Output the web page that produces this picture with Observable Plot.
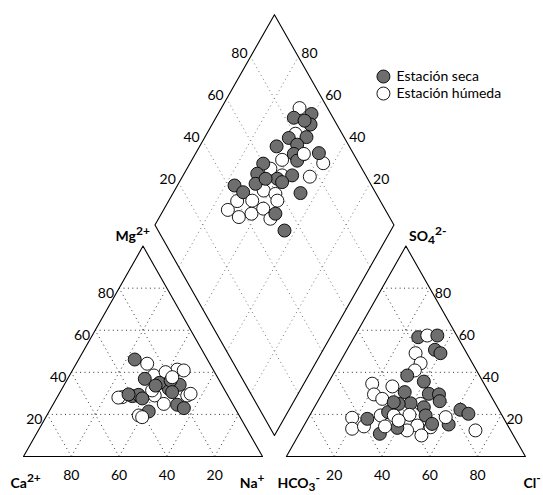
<!DOCTYPE html>
<html>
<head>
<meta charset="utf-8">
<script src="https://cdn.jsdelivr.net/npm/d3@7"></script>
<script src="https://cdn.jsdelivr.net/npm/@observablehq/plot@0.6"></script>
<style>
  html, body { margin: 0; padding: 0; background: white; }
  #chart svg { display: block; }
</style>
</head>
<body>
<div id="chart"></div>
<script>
// ---- Data (percent of meq) ----
const ticks = [20, 40, 60, 80];
const seasons = ["Estación seca", "Estación húmeda"];
const ionLabels = ["Mg^2+", "SO_4^2-", "Ca^2+", "Na^+", "HCO_3^-", "Cl^-"];

// cation triangle: [Na+ %, Mg2+ %]
const cationDry = [[23.5,46.1],[39.9,37.7],[32.3,36.9],[31.2,28.7],[33.5,29.3],[48.3,34.1],[52,24.6],[55.6,23],[41.7,21.4],[44.7,32.2],[39.4,35],[43.5,36.1],[46.9,30.6],[35.9,27.6],[38.4,33.7],[29.2,29.5]];
const cationWet = [[29.7,44.1],[35.3,38.5],[43.7,41.3],[46.6,40.9],[39.4,40.1],[40.4,29],[46.2,25],[27.2,28.2],[38.5,19.5],[40.3,18.7],[54,29],[55,29.8],[38.1,31.4],[43.4,37.7],[25.7,28]];

// anion triangle: [Cl- %, SO4 2- %]
const anionDry = [[26.8,56.7],[34.4,57.5],[36.8,50.7],[39.9,49.1],[31.3,38.5],[39.7,35.6],[34.2,30.6],[44.7,29.8],[49.1,29.5],[51,26.3],[39.3,25.3],[45.8,23.4],[34.5,25],[32,21.1],[48.5,19.5],[61.7,22.2],[66,20.3],[60.3,15.2],[33.7,10.8],[39.6,13.6],[24.9,17.9],[53.2,15.5],[32,25.8]];
const anionWet = [[30.2,57.5],[29.5,49.1],[34,44.3],[33.3,40.9],[18.6,34.6],[27.7,33.3],[21.9,29.5],[26.4,27.4],[43.6,25],[18.3,18.4],[20.9,13.2],[25.3,14.3],[29.7,19.5],[35.2,19.5],[41.6,19.8],[47.4,14.7],[44.3,12.4],[53.4,13.9],[57.3,18.7],[51.5,10],[72.9,12.4],[34.1,14.3],[38.4,17.1]];

// diamond: [upper-left axis %, upper-right axis %]
const diamondDry = [[91.9,60.9],[83.6,67.4],[89,58.8],[87.4,62.2],[76.7,64.7],[84.3,57.5],[69.6,67.8],[78.6,59.6],[75,58.8],[85.7,48.5],[74.8,55.8],[59.9,69.3],[55,69.4],[69.2,54.4],[62.2,59.8],[63.4,57],[42.7,76.1],[44.7,70.9],[51.9,67.7],[68.5,46.7],[53.1,52.3],[52.9,44.5],[57.3,64.7]];
const diamondWet = [[88.3,67.3],[80.5,62.9],[78.8,54.8],[85.1,44.3],[68.7,62.3],[61.7,65.1],[76.3,46.7],[65,58.6],[53.7,62.7],[57.8,57],[40.1,71.3],[34.1,73.1],[37,66.8],[43.1,62.3],[49.2,58.6],[49.8,53.2],[57,54.6],[46.5,65.1],[79.2,54.6]];

// ---- Piper geometry ----
const S = Math.sqrt(3) / 2;
const G = 10; // gap between triangles
const cat = (na, mg) => ({x: na + mg / 2, y: mg * S});
const an = (cl, so4) => ({x: 100 + G + cl + so4 / 2, y: so4 * S});
const dia = (p, q) => ({x: 100 + G / 2 + (p - q) / 2, y: G * S + (p + q) * S});

const DRY = "#6e6e6e", WET = "#ffffff";

function interleave(a, b) {
  const out = [];
  const n = Math.max(a.length, b.length);
  for (let i = 0; i < n; i++) {
    if (i < a.length) out.push(a[i]);
    if (i < b.length) out.push(b[i]);
  }
  return out;
}
const tag = (arr, f, fill) => arr.map(d => ({...f(d[0], d[1]), fill}));
const points = [
  ...interleave(tag(cationDry, cat, DRY), tag(cationWet, cat, WET)),
  ...interleave(tag(anionDry, an, DRY), tag(anionWet, an, WET)),
  ...interleave(tag(diamondDry, dia, DRY), tag(diamondWet, dia, WET))
];

// outlines
const outlines = [
  [cat(0,0), cat(100,0), cat(0,100), cat(0,0)].map(d => ({...d, z: "L"})),
  [an(0,0), an(100,0), an(0,100), an(0,0)].map(d => ({...d, z: "R"})),
  [dia(0,0), dia(100,0), dia(100,100), dia(0,100), dia(0,0)].map(d => ({...d, z: "D"}))
].flat();

// grid segments
const seg = (a, b) => ({x1: a.x, y1: a.y, x2: b.x, y2: b.y});
const gridTri = [], gridDia = [];
for (const k of ticks) {
  gridTri.push(seg(cat(0,k), cat(100-k,k)), seg(cat(k,0), cat(k,100-k)), seg(cat(100-k,0), cat(0,100-k)));
  gridTri.push(seg(an(0,k), an(100-k,k)), seg(an(k,0), an(k,100-k)), seg(an(100-k,0), an(0,100-k)));
  gridDia.push(seg(dia(k,0), dia(k,100)), seg(dia(0,k), dia(100,k)));
}

// tick labels
const lab = (pt, text) => ({...pt, text: String(text)});
const mgLabels = ticks.map(k => lab(cat(0,k), k));
const caLabels = ticks.map(k => lab(cat(k,0), 100-k));
const so4Labels = ticks.map(k => lab(an(100-k,k), k));
const clLabels = ticks.map(k => lab(an(k,0), k));
const diaLeft = ticks.map(k => lab(dia(k,100), k));
const diaRight = ticks.map(k => lab(dia(100,k), k));

// legend
const legend = seasons.map((s, i) => ({x: 150.6, y: 156.4 - i * 7, text: s, fill: i === 0 ? DRY : WET}));

const fs = 14;
const chart = Plot.plot({
  width: 543,
  height: 495,
  margin: 0,
  x: {domain: [0, 100], range: [23, 262], axis: null},
  y: {domain: [0, 100 * S], range: [456, 245.6], axis: null},
  color: {type: "identity"},
  style: {fontFamily: "Lato, 'Open Sans', sans-serif", fontSize: fs + "px", background: "white", color: "black"},
  marks: [
    Plot.link(gridTri, {x1: "x1", y1: "y1", x2: "x2", y2: "y2", stroke: "#333", strokeWidth: 1, strokeDasharray: "1,3.4"}),
    Plot.link(gridDia, {x1: "x1", y1: "y1", x2: "x2", y2: "y2", stroke: "#777", strokeWidth: 1, strokeDasharray: "1,3.4"}),
    Plot.line(outlines, {x: "x", y: "y", z: "z", stroke: "black", strokeWidth: 1.1}),
    Plot.dot(points, {x: "x", y: "y", r: 6.5, fill: "fill", stroke: "black", strokeWidth: 0.9}),
    Plot.text(mgLabels, {x: "x", y: "y", text: "text", textAnchor: "end", dx: -5, dy: 5, fontSize: fs}),
    Plot.text(caLabels, {x: "x", y: "y", text: "text", dy: 19, fontSize: fs}),
    Plot.text(so4Labels, {x: "x", y: "y", text: "text", textAnchor: "start", dx: 5, dy: 5, fontSize: fs}),
    Plot.text(clLabels, {x: "x", y: "y", text: "text", dy: 19, fontSize: fs}),
    Plot.text(diaLeft, {x: "x", y: "y", text: "text", textAnchor: "end", dx: -3, dy: -3, fontSize: fs}),
    Plot.text(diaRight, {x: "x", y: "y", text: "text", textAnchor: "start", dx: 3, dy: -3, fontSize: fs}),
    // ion labels
    Plot.text([{...dia(0,100), text: ionLabels[0]}], {x: "x", y: "y", text: "text", textAnchor: "end", dx: -5, dy: 11, fontWeight: "bold", fontSize: fs}),
    Plot.text([{...dia(100,0), text: ionLabels[1]}], {x: "x", y: "y", text: "text", textAnchor: "start", dx: 15, dy: 11, fontWeight: "bold", fontSize: fs}),
    Plot.text([{...cat(0,0), text: ionLabels[2]}], {x: "x", y: "y", text: "text", textAnchor: "start", dx: -13, dy: 27, fontWeight: "bold", fontSize: fs}),
    Plot.text([{...cat(100,0), text: ionLabels[3]}], {x: "x", y: "y", text: "text", textAnchor: "end", dx: 2, dy: 27, fontWeight: "bold", fontSize: fs}),
    Plot.text([{...an(0,0), text: ionLabels[4]}], {x: "x", y: "y", text: "text", textAnchor: "start", dx: -9, dy: 27, fontWeight: "bold", fontSize: fs}),
    Plot.text([{...an(100,0), text: ionLabels[5]}], {x: "x", y: "y", text: "text", textAnchor: "start", dx: -2, dy: 27, fontWeight: "bold", fontSize: fs}),
    // legend
    Plot.dot(legend, {x: "x", y: "y", r: 6.5, fill: "fill", stroke: "black", strokeWidth: 0.9}),
    Plot.text(legend, {x: "x", y: "y", text: "text", textAnchor: "start", dx: 13, fontSize: fs})
  ]
});

// superscript/subscript formatting of ion labels
d3.select(chart).selectAll("text").each(function() {
  const t = this.textContent;
  if (!/[\^_]/.test(t)) return;
  const parts = t.split(/(?=[\^_])/);
  const el = d3.select(this);
  el.text(null);
  let cur = 0;
  for (const p of parts) {
    let target = 0, txt = p, size = null;
    if (p[0] === "^") { target = -6; txt = p.slice(1); size = 12; }
    else if (p[0] === "_") { target = 3.5; txt = p.slice(1); size = 12; }
    const ts = el.append("tspan").text(txt);
    if (target !== cur) ts.attr("dy", target - cur);
    if (size) ts.attr("font-size", size);
    cur = target;
  }
});

document.getElementById("chart").appendChild(chart);
</script>
</body>
</html>
